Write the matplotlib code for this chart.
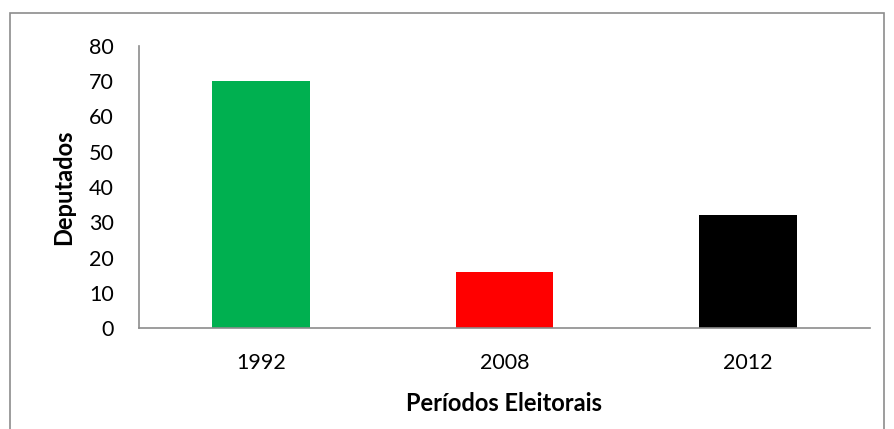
import matplotlib.pyplot as plt
from matplotlib.patches import Rectangle

periodos = ["1992", "2008", "2012"]
deputados = [70, 16, 32]
cores = ["#00b050", "#ff0000", "#000000"]

plt.rcParams['font.family'] = ['Lato', 'DejaVu Sans']

fig = plt.figure(figsize=(8.95, 4.29), dpi=100)
ax = fig.add_axes([139 / 895, 1 - 328 / 429, (870 - 139) / 895, (328 - 46) / 429])

x = range(len(periodos))
ax.bar(x, deputados, width=0.4, color=cores)
ax.set_xlim(-0.5, len(periodos) - 0.5)
ax.set_ylim(0, 80)
ax.set_yticks(range(0, 81, 10))
ax.set_xticks(list(x))
ax.set_xticklabels(periodos)

for s in ["top", "right"]:
    ax.spines[s].set_visible(False)
for s in ["left", "bottom"]:
    ax.spines[s].set_color("#8c8c8c")
    ax.spines[s].set_linewidth(1.2)

ax.tick_params(axis="y", length=0, pad=18, labelsize=15.5)
ax.tick_params(axis="x", length=0, pad=18, labelsize=15.5)

ax.set_xlabel("Períodos Eleitorais", fontsize=17, fontweight="bold", labelpad=14)
ax.set_ylabel("Deputados", fontsize=17, fontweight="bold", labelpad=10)

# outer chart frame
fig.patches.append(Rectangle((10 / 895, -0.01), 874 / 895, 1 - 13 / 429 + 0.01,
                             transform=fig.transFigure, fill=False,
                             edgecolor="#8c8c8c", linewidth=1.2))

fig.savefig("out.png", dpi=100)
